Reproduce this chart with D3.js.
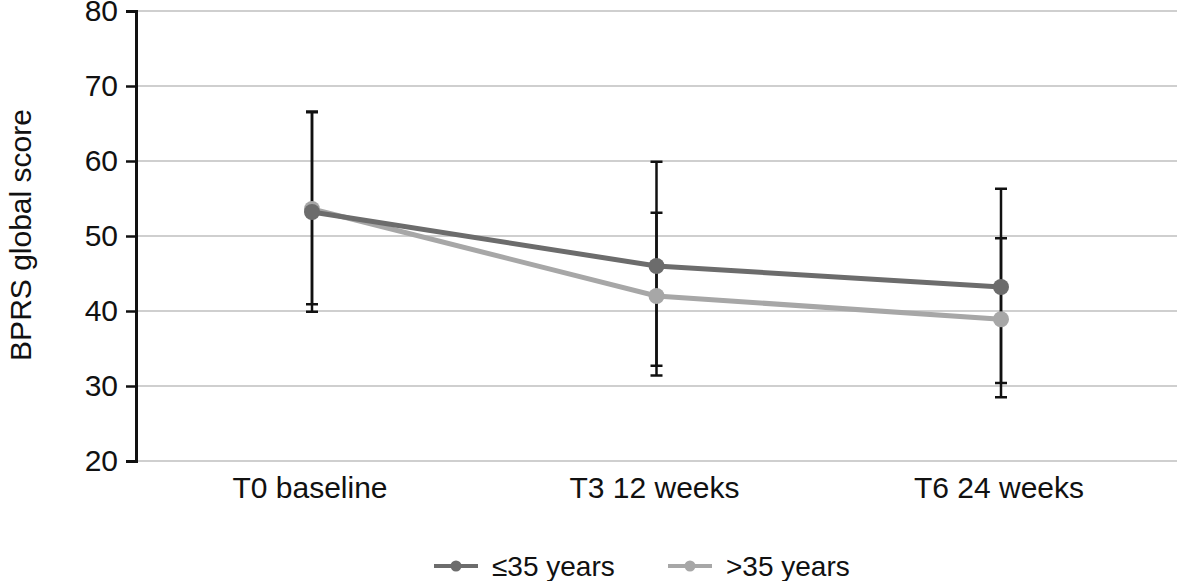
<!DOCTYPE html>
<html>
<head>
<meta charset="utf-8">
<script src="https://cdn.jsdelivr.net/npm/d3@7"></script>
<style>
  body { margin: 0; background: #fff; }
  svg text { font-family: "Liberation Sans", Arial, sans-serif; fill: #111; }
</style>
</head>
<body>
<div id="chart"></div>
<script>
// data
const categories = ["T0 baseline", "T3 12 weeks", "T6 24 weeks"];
const yTicks = [20, 30, 40, 50, 60, 70, 80];

const youngMean  = [53.2, 46.0, 43.2];
const youngUpper = [66.6, 59.9, 56.3];
const youngLower = [39.9, 32.7, 30.4];

const olderMean  = [53.6, 42.0, 38.9];
const olderUpper = [66.5, 53.1, 49.7];
const olderLower = [40.9, 31.4, 28.5];

const seriesNames = ["\u226435 years", ">35 years"];
const seriesColors = ["#6c6c6c", "#a7a7a7"];

const width = 1177, height = 581;
const axisX = 136;

const svg = d3.select("#chart").append("svg")
    .attr("width", width)
    .attr("height", height);

const x = d3.scalePoint().domain(categories).range([312, 1001]);
const y = d3.scaleLinear().domain([20, 80]).range([461, 11]);

// grid
svg.append("g").selectAll("line")
    .data(yTicks)
    .enter().append("line")
    .attr("x1", axisX).attr("x2", width)
    .attr("y1", d => y(d)).attr("y2", d => y(d))
    .attr("stroke", "#cfcfcf")
    .attr("stroke-width", 2);

// y axis
const yAxis = svg.append("g")
    .attr("transform", `translate(${axisX},0)`)
    .call(d3.axisLeft(y).tickValues(yTicks).tickSize(10).tickPadding(8));
yAxis.select(".domain").attr("stroke", "#111").attr("stroke-width", 3);
yAxis.selectAll(".tick line").attr("stroke", "#111").attr("stroke-width", 2.5);
yAxis.selectAll(".tick text")
    .attr("font-size", 30)
    .attr("font-family", "Liberation Sans, Arial, sans-serif")
    .attr("fill", "#111");

// y title
svg.append("text")
    .attr("transform", `translate(31,235) rotate(-90)`)
    .attr("text-anchor", "middle")
    .attr("font-size", 30)
    .text("BPRS global score");

// x labels
svg.append("g").selectAll("text")
    .data(categories)
    .enter().append("text")
    .attr("x", d => x(d) - 2)
    .attr("y", 498)
    .attr("text-anchor", "middle")
    .attr("font-size", 30)
    .text(d => d);

// error bars
const bars = [];
categories.forEach((c, i) => {
    bars.push({ c: c, hi: youngUpper[i], lo: youngLower[i] });
    bars.push({ c: c, hi: olderUpper[i], lo: olderLower[i] });
});
const eb = svg.append("g").attr("stroke", "#111").attr("stroke-width", 2.5);
bars.forEach(b => {
    eb.append("line")
        .attr("x1", x(b.c)).attr("x2", x(b.c))
        .attr("y1", y(b.hi)).attr("y2", y(b.lo));
    [b.hi, b.lo].forEach(v => {
        eb.append("line")
            .attr("x1", x(b.c) - 6).attr("x2", x(b.c) + 6)
            .attr("y1", y(v)).attr("y2", y(v));
    });
});

// series lines + points (older first so younger sits on top)
const line = d3.line()
    .x((d, i) => x(categories[i]))
    .y(d => y(d));

[[olderMean, seriesColors[1]], [youngMean, seriesColors[0]]].forEach(([vals, col]) => {
    svg.append("path")
        .datum(vals)
        .attr("d", line)
        .attr("fill", "none")
        .attr("stroke", col)
        .attr("stroke-width", 5);
    svg.append("g").selectAll("circle")
        .data(vals)
        .enter().append("circle")
        .attr("cx", (d, i) => x(categories[i]))
        .attr("cy", d => y(d))
        .attr("r", 8)
        .attr("fill", col);
});

// legend
const legendX = [434, 668];
const legend = svg.append("g");
seriesNames.forEach((name, i) => {
    const lg = legend.append("g").attr("transform", `translate(${legendX[i]},566)`);
    lg.append("line")
        .attr("x1", 0).attr("x2", 44)
        .attr("stroke", seriesColors[i])
        .attr("stroke-width", 4);
    lg.append("circle")
        .attr("cx", 22).attr("r", 5.5)
        .attr("fill", seriesColors[i]);
    lg.append("text")
        .attr("x", 58)
        .attr("y", 10)
        .attr("font-size", 28)
        .text(name);
});
</script>
</body>
</html>
